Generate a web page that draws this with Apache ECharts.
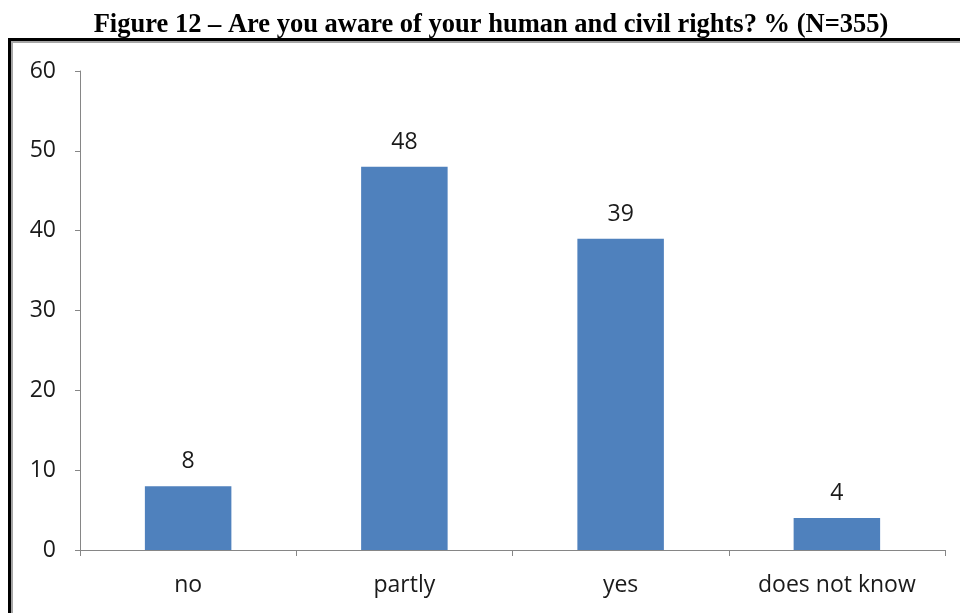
<!DOCTYPE html>
<html>
<head>
<meta charset="utf-8">
<script src="https://cdn.jsdelivr.net/npm/echarts@6/dist/echarts.min.js"></script>
<style>
html,body{margin:0;padding:0;background:#fff;}
#c{width:960px;height:613px;}
</style>
</head>
<body>
<div id="c"></div>
<script>
var titleText = 'Figure 12 \u2013 Are you aware of your human and civil rights? % (N=355)';
var categories = ['no', 'partly', 'yes', 'does not know'];
var values = [8, 48, 39, 4];
var yTicks = [0, 10, 20, 30, 40, 50, 60];

var chart = echarts.init(document.getElementById('c'), null, {renderer: 'canvas'});
var font = '"Open Sans", "Noto Sans", sans-serif';
chart.setOption({
  backgroundColor: '#fff',
  animation: false,
  graphic: [
    {type: 'text', x: 491, y: 25, z: 100,
     style: {text: titleText, fontFamily: '"Liberation Serif", "Times New Roman", serif', fontWeight: 'bold', fontSize: 26.5, fill: '#000', align: 'center', verticalAlign: 'middle'}},
    {type: 'rect', shape: {x: 9.5, y: 39.5, width: 1000, height: 700}, style: {fill: 'none', stroke: '#000', lineWidth: 3}, z: 100},
    {type: 'rect', shape: {x: 12, y: 42, width: 1000, height: 700}, style: {fill: 'none', stroke: '#a6a6a6', lineWidth: 2}, z: 100}
  ],
  grid: {left: 80, right: 15, top: 71, bottom: 63},
  xAxis: {
    type: 'category',
    data: categories,
    axisLine: {show: true, lineStyle: {color: '#868686', width: 1}},
    axisTick: {show: true, length: 6, alignWithLabel: false, lineStyle: {color: '#868686'}},
    axisLabel: {fontFamily: font, fontSize: 23, color: '#1a1a1a', margin: 24}
  },
  yAxis: {
    type: 'value',
    min: 0, max: 60, interval: 10,
    axisLine: {show: true, lineStyle: {color: '#868686', width: 1}},
    axisTick: {show: true, length: 5, lineStyle: {color: '#868686'}},
    splitLine: {show: false},
    axisLabel: {fontFamily: font, fontSize: 23, color: '#1a1a1a', margin: 24,
      formatter: function(v){ return yTicks.indexOf(v) >= 0 ? String(v) : ''; }}
  },
  series: [{
    type: 'bar',
    data: values,
    barWidth: '40%',
    itemStyle: {color: '#4F81BD'},
    label: {show: true, position: 'top', distance: 13, fontFamily: font, fontSize: 23, color: '#1a1a1a'}
  }]
});
</script>
</body>
</html>
